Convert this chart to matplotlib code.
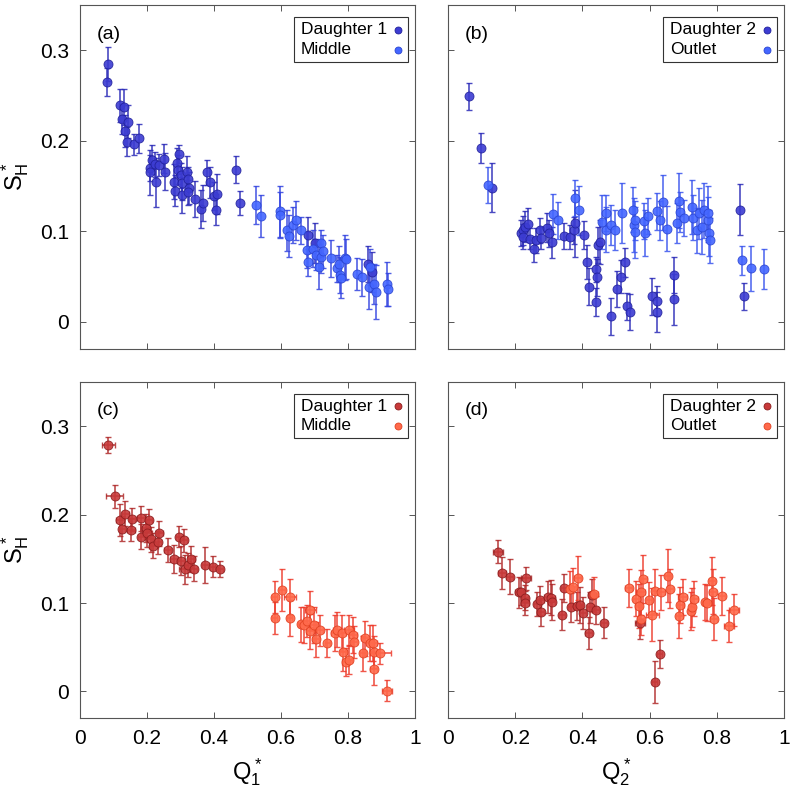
import matplotlib
matplotlib.use("Agg")
import matplotlib.pyplot as plt
from matplotlib.patches import Rectangle

plt.rcParams['font.family'] = ['Liberation Sans', 'DejaVu Sans']
plt.rcParams['mathtext.fontset'] = 'custom'
plt.rcParams['mathtext.rm'] = 'Liberation Sans'
plt.rcParams['mathtext.it'] = 'Liberation Sans'

# ---- panel (a): Q1*, daughter 1 / middle (blue)
a_d1_q = [0.085, 0.082, 0.120, 0.130, 0.125, 0.142, 0.133, 0.140, 0.160, 0.175,
          0.208, 0.215, 0.208, 0.225, 0.235, 0.228, 0.252, 0.255, 0.295, 0.290,
          0.292, 0.280, 0.300, 0.283, 0.305, 0.305, 0.320, 0.323, 0.325, 0.322,
          0.343, 0.360, 0.367, 0.380, 0.387, 0.400, 0.410, 0.406, 0.465, 0.478,
          0.680, 0.700, 0.860, 0.872]
a_d1_s = [0.285, 0.265, 0.239, 0.237, 0.224, 0.221, 0.211, 0.199, 0.196, 0.203,
          0.170, 0.179, 0.165, 0.174, 0.173, 0.154, 0.180, 0.166, 0.185, 0.176,
          0.168, 0.155, 0.162, 0.145, 0.153, 0.140, 0.165, 0.158, 0.148, 0.143,
          0.136, 0.125, 0.131, 0.165, 0.154, 0.139, 0.141, 0.124, 0.168, 0.131,
          0.096, 0.087, 0.064, 0.055]
a_d1_e = [0.019, 0.015, 0.018, 0.020, 0.017, 0.018, 0.018, 0.016, 0.012, 0.016,
          0.014, 0.016, 0.025, 0.014, 0.012, 0.027, 0.016, 0.020, 0.010, 0.016,
          0.016, 0.019, 0.014, 0.017, 0.018, 0.020, 0.018, 0.013, 0.018, 0.014,
          0.020, 0.021, 0.020, 0.014, 0.017, 0.016, 0.022, 0.017, 0.015, 0.013,
          0.020, 0.022, 0.020, 0.022]
a_mid_q = [0.525, 0.540, 0.596, 0.598, 0.617, 0.623, 0.637, 0.645, 0.660, 0.678,
           0.682, 0.695, 0.705, 0.712, 0.718, 0.720, 0.725, 0.750, 0.768, 0.773,
           0.775, 0.778, 0.790, 0.795, 0.828, 0.843, 0.865, 0.862, 0.877, 0.883,
           0.917, 0.920]
a_mid_s = [0.129, 0.117, 0.122, 0.118, 0.101, 0.095, 0.107, 0.112, 0.101, 0.079,
           0.066, 0.081, 0.074, 0.061, 0.087, 0.072, 0.078, 0.070, 0.059, 0.064,
           0.052, 0.048, 0.071, 0.069, 0.053, 0.049, 0.061, 0.039, 0.042, 0.033,
           0.042, 0.036]
a_mid_e = [0.021, 0.023, 0.028, 0.025, 0.023, 0.023, 0.020, 0.022, 0.015, 0.020,
           0.015, 0.020, 0.017, 0.025, 0.015, 0.018, 0.018, 0.020, 0.015, 0.020,
           0.020, 0.022, 0.025, 0.022, 0.018, 0.020, 0.020, 0.025, 0.022, 0.030,
           0.024, 0.018]

# ---- panel (b): Q2*, daughter 2 / outlet (blue)
b_d2_q = [0.062, 0.097, 0.130, 0.216, 0.222, 0.229, 0.239, 0.224, 0.244, 0.257,
          0.261, 0.274, 0.277, 0.294, 0.301, 0.311, 0.346, 0.362, 0.374, 0.379,
          0.406, 0.414, 0.419, 0.439, 0.439, 0.444, 0.446, 0.452, 0.484, 0.503,
          0.516, 0.528, 0.533, 0.543, 0.608, 0.623, 0.623, 0.673, 0.673, 0.880,
          0.869]
b_d2_s = [0.249, 0.192, 0.148, 0.098, 0.101, 0.105, 0.108, 0.094, 0.092, 0.080,
          0.090, 0.101, 0.093, 0.104, 0.098, 0.088, 0.095, 0.094, 0.101, 0.109,
          0.096, 0.066, 0.039, 0.058, 0.022, 0.049, 0.085, 0.088, 0.006, 0.036,
          0.050, 0.066, 0.017, 0.011, 0.028, 0.023, 0.011, 0.052, 0.025, 0.028,
          0.124]
b_d2_e = [0.015, 0.017, 0.027, 0.014, 0.016, 0.017, 0.018, 0.014, 0.012, 0.014,
          0.014, 0.014, 0.012, 0.016, 0.015, 0.017, 0.014, 0.013, 0.015, 0.037,
          0.015, 0.019, 0.020, 0.014, 0.015, 0.020, 0.020, 0.024, 0.020, 0.020,
          0.018, 0.016, 0.015, 0.020, 0.020, 0.017, 0.022, 0.020, 0.028, 0.015,
          0.028]
b_out_q = [0.120, 0.312, 0.326, 0.379, 0.389, 0.459, 0.469, 0.471, 0.484, 0.496,
           0.518, 0.551, 0.555, 0.558, 0.556, 0.583, 0.585, 0.595, 0.623, 0.630,
           0.640, 0.653, 0.683, 0.688, 0.690, 0.703, 0.725, 0.728, 0.740, 0.746,
           0.755, 0.763, 0.773, 0.775, 0.778, 0.781, 0.875, 0.902, 0.940]
b_out_s = [0.151, 0.119, 0.112, 0.137, 0.123, 0.110, 0.120, 0.102, 0.107, 0.101,
           0.120, 0.124, 0.107, 0.112, 0.099, 0.111, 0.098, 0.117, 0.122, 0.112,
           0.132, 0.103, 0.109, 0.134, 0.121, 0.115, 0.127, 0.115, 0.101, 0.120,
           0.105, 0.123, 0.113, 0.120, 0.098, 0.090, 0.068, 0.059, 0.058]
b_out_e = [0.020, 0.022, 0.020, 0.020, 0.027, 0.030, 0.020, 0.025, 0.022, 0.022,
           0.033, 0.025, 0.030, 0.022, 0.028, 0.020, 0.025, 0.020, 0.020, 0.022,
           0.030, 0.025, 0.022, 0.030, 0.022, 0.020, 0.030, 0.025, 0.025, 0.028,
           0.030, 0.030, 0.025, 0.030, 0.025, 0.025, 0.016, 0.025, 0.022]

# ---- panel (c): Q1*, daughter 1 / middle (red)
c_d1_q = [0.085, 0.103, 0.120, 0.125, 0.135, 0.152, 0.155, 0.181, 0.182, 0.197,
          0.199, 0.206, 0.212, 0.219, 0.232, 0.237, 0.262, 0.282, 0.297, 0.309,
          0.302, 0.312, 0.322, 0.332, 0.339, 0.374, 0.396, 0.419]
c_d1_s = [0.279, 0.221, 0.194, 0.184, 0.201, 0.183, 0.195, 0.196, 0.175, 0.185,
          0.179, 0.194, 0.172, 0.165, 0.169, 0.179, 0.160, 0.150, 0.175, 0.171,
          0.148, 0.138, 0.143, 0.150, 0.139, 0.143, 0.141, 0.139]
c_d1_e = [0.009, 0.013, 0.018, 0.014, 0.014, 0.013, 0.013, 0.014, 0.014, 0.016,
          0.016, 0.012, 0.014, 0.014, 0.013, 0.014, 0.014, 0.016, 0.012, 0.013,
          0.016, 0.016, 0.014, 0.015, 0.014, 0.020, 0.012, 0.009]
c_d1_xe = [0.020, 0.025, 0.012, 0.010, 0.010, 0.012, 0.010, 0.012, 0.010, 0.012,
           0.015, 0.010, 0.012, 0.014, 0.010, 0.010, 0.010, 0.012, 0.010, 0.010,
           0.012, 0.015, 0.010, 0.010, 0.010, 0.010, 0.008, 0.008]
c_mid_q = [0.581, 0.603, 0.626, 0.581, 0.626, 0.661, 0.670, 0.678, 0.688, 0.688,
           0.698, 0.703, 0.716, 0.738, 0.761, 0.766, 0.783, 0.786, 0.793, 0.803,
           0.803, 0.816, 0.818, 0.845, 0.850, 0.867, 0.874, 0.877, 0.877, 0.897,
           0.917]
c_mid_s = [0.107, 0.115, 0.107, 0.083, 0.083, 0.076, 0.075, 0.080, 0.092, 0.068,
           0.075, 0.059, 0.069, 0.055, 0.066, 0.070, 0.066, 0.045, 0.033, 0.036,
           0.069, 0.064, 0.056, 0.043, 0.060, 0.055, 0.055, 0.045, 0.025, 0.043,
           0.001]
c_mid_e = [0.018, 0.024, 0.020, 0.018, 0.020, 0.020, 0.020, 0.018, 0.022, 0.020,
           0.020, 0.020, 0.018, 0.016, 0.020, 0.020, 0.020, 0.022, 0.016, 0.016,
           0.018, 0.020, 0.018, 0.020, 0.020, 0.020, 0.020, 0.018, 0.018, 0.012,
           0.012]
c_mid_xe = [0.008, 0.008, 0.018, 0.008, 0.008, 0.010, 0.015, 0.010, 0.015, 0.012,
            0.012, 0.010, 0.010, 0.008, 0.012, 0.012, 0.010, 0.010, 0.010, 0.010,
            0.015, 0.012, 0.010, 0.010, 0.010, 0.012, 0.012, 0.010, 0.010, 0.030,
            0.015]

# ---- panel (d): Q2*, daughter 2 / outlet (red)
d_d2_q = [0.150, 0.162, 0.184, 0.211, 0.216, 0.229, 0.229, 0.231, 0.266, 0.274,
          0.277, 0.299, 0.307, 0.309, 0.339, 0.346, 0.366, 0.384, 0.392, 0.402,
          0.419, 0.424, 0.429, 0.439, 0.464, 0.571, 0.615, 0.630]
d_d2_s = [0.158, 0.134, 0.130, 0.112, 0.113, 0.106, 0.100, 0.128, 0.099, 0.103,
          0.090, 0.107, 0.106, 0.101, 0.087, 0.117, 0.095, 0.097, 0.098, 0.089,
          0.066, 0.095, 0.109, 0.092, 0.078, 0.077, 0.011, 0.042]
d_d2_e = [0.013, 0.018, 0.020, 0.018, 0.015, 0.014, 0.014, 0.013, 0.014, 0.016,
          0.016, 0.018, 0.020, 0.020, 0.018, 0.016, 0.016, 0.016, 0.020, 0.018,
          0.018, 0.018, 0.018, 0.016, 0.018, 0.018, 0.024, 0.016]
d_d2_xe = [0.015, 0.012, 0.010, 0.012, 0.010, 0.010, 0.012, 0.015, 0.010, 0.012,
           0.010, 0.012, 0.010, 0.010, 0.008, 0.010, 0.010, 0.010, 0.010, 0.010,
           0.010, 0.010, 0.012, 0.010, 0.010, 0.015, 0.008, 0.008]
d_out_q = [0.362, 0.371, 0.386, 0.434, 0.538, 0.560, 0.568, 0.573, 0.573, 0.581,
           0.598, 0.608, 0.616, 0.635, 0.655, 0.661, 0.688, 0.691, 0.698, 0.723,
           0.726, 0.733, 0.766, 0.770, 0.786, 0.788, 0.791, 0.815, 0.837, 0.850]
d_out_s = [0.116, 0.118, 0.128, 0.110, 0.117, 0.105, 0.097, 0.112, 0.082, 0.127,
           0.104, 0.087, 0.114, 0.112, 0.131, 0.116, 0.085, 0.098, 0.107, 0.091,
           0.095, 0.105, 0.101, 0.100, 0.125, 0.113, 0.082, 0.108, 0.074, 0.092]
d_out_e = [0.020, 0.022, 0.025, 0.020, 0.022, 0.020, 0.025, 0.025, 0.018, 0.027,
           0.020, 0.030, 0.025, 0.020, 0.030, 0.022, 0.025, 0.020, 0.020, 0.022,
           0.022, 0.020, 0.020, 0.020, 0.027, 0.025, 0.024, 0.022, 0.018, 0.018]
d_out_xe = [0.010, 0.010, 0.010, 0.012, 0.010, 0.010, 0.010, 0.012, 0.010, 0.010,
            0.010, 0.020, 0.010, 0.010, 0.010, 0.010, 0.010, 0.010, 0.012, 0.010,
            0.010, 0.010, 0.010, 0.012, 0.010, 0.010, 0.010, 0.010, 0.015, 0.015]

blue_dark, blue_dark_edge = '#3c3cd2', '#20209a'
blue_light, blue_light_edge = '#4466ff', '#2a44d0'
red_dark, red_dark_edge = '#c83a3a', '#8a1c1c'
red_light, red_light_edge = '#ff6a4c', '#e04020'

fig = plt.figure(figsize=(7.91, 7.94), dpi=100)
W, H = 791, 794
def ax_at(x0, y0, x1, y1):
    return fig.add_axes([x0 / W, 1 - y1 / H, (x1 - x0) / W, (y1 - y0) / H])

axa = ax_at(80, 5, 415, 349)
axb = ax_at(448, 5, 784, 349)
axc = ax_at(80, 382, 415, 718)
axd = ax_at(448, 382, 784, 718)


def series(ax, q, s, e, xe, face, edge, ecol):
    ax.errorbar(q, s, yerr=e, xerr=xe, fmt='none', ecolor=ecol, elinewidth=1.2,
                capsize=2.3, capthick=1.0, alpha=0.85, zorder=2)
    ax.plot(q, s, 'o', ms=6.5, mfc=face, mec=edge, mew=0.6, alpha=0.9,
            linestyle='none', zorder=3)


def legend_box(ax, names, colors):
    # matlab style: text on the left, marker on the right
    ax.add_patch(Rectangle((0.639, 0.834), 0.340, 0.131, transform=ax.transAxes,
                           facecolor='white', edgecolor='#333333', lw=0.8,
                           zorder=5))
    for i, (name, (f, ec)) in enumerate(zip(names, colors)):
        y = 0.928 - i * 0.058
        ax.text(0.660, y, name, transform=ax.transAxes, fontsize=12.5,
                va='center', ha='left', zorder=6)
        ax.plot([0.949], [y], 'o', ms=5, mfc=f, mec=ec, mew=0.6,
                transform=ax.transAxes, zorder=6, clip_on=False)


def panel(ax, tag, names, colors, left, bottom, xlab=None):
    ax.set_xlim(0, 1)
    ax.set_ylim(-0.03, 0.35)
    ax.set_xticks([0, 0.2, 0.4, 0.6, 0.8, 1])
    ax.set_yticks([0, 0.1, 0.2, 0.3])
    ax.xaxis.set_major_formatter(plt.FuncFormatter(lambda v, p: '%g' % v))
    ax.yaxis.set_major_formatter(plt.FuncFormatter(lambda v, p: '%g' % v))
    ax.tick_params(direction='in', length=4, width=0.7, color='#555555',
                   top=True, right=True, labelsize=15,
                   labelleft=left, labelbottom=bottom, pad=8)
    for sp in ax.spines.values():
        sp.set_color('#555555')
        sp.set_linewidth(0.8)
    ax.text(0.05, 0.915, tag, transform=ax.transAxes, fontsize=14,
            va='center', ha='left')
    legend_box(ax, names, colors)
    if left:
        ax.set_ylabel(r'$S_H^*$', fontsize=17, labelpad=6)
    if xlab:
        ax.set_xlabel(xlab, fontsize=17, labelpad=6)


series(axa, a_d1_q, a_d1_s, a_d1_e, None, blue_dark, blue_dark_edge, '#2a2ab8')
series(axa, a_mid_q, a_mid_s, a_mid_e, None, blue_light, blue_light_edge, '#3344e0')
series(axb, b_d2_q, b_d2_s, b_d2_e, None, blue_dark, blue_dark_edge, '#2a2ab8')
series(axb, b_out_q, b_out_s, b_out_e, None, blue_light, blue_light_edge, '#3a55ee')
series(axc, c_d1_q, c_d1_s, c_d1_e, c_d1_xe, red_dark, red_dark_edge, '#b02a2a')
series(axc, c_mid_q, c_mid_s, c_mid_e, c_mid_xe, red_light, red_light_edge, '#ee3a2a')
series(axd, d_d2_q, d_d2_s, d_d2_e, d_d2_xe, red_dark, red_dark_edge, '#b02a2a')
series(axd, d_out_q, d_out_s, d_out_e, d_out_xe, red_light, red_light_edge, '#ee3a2a')

panel(axa, '(a)', ['Daughter 1', 'Middle'],
      [(blue_dark, blue_dark_edge), (blue_light, blue_light_edge)], True, False)
panel(axb, '(b)', ['Daughter 2', 'Outlet'],
      [(blue_dark, blue_dark_edge), (blue_light, blue_light_edge)], False, False)
panel(axc, '(c)', ['Daughter 1', 'Middle'],
      [(red_dark, red_dark_edge), (red_light, red_light_edge)], True, True,
      r'$Q_1^*$')
panel(axd, '(d)', ['Daughter 2', 'Outlet'],
      [(red_dark, red_dark_edge), (red_light, red_light_edge)], False, True,
      r'$Q_2^*$')

fig.savefig('out.png', dpi=100)
